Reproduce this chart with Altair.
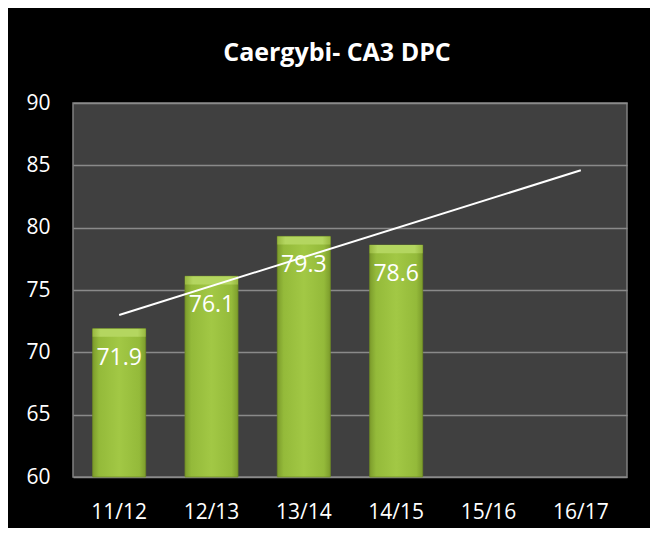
import altair as alt
import pandas as pd

categories = ["11/12", "12/13", "13/14", "14/15", "15/16", "16/17"]
bar_cats = ["11/12", "12/13", "13/14", "14/15"]
bar_values = [71.9, 76.1, 79.3, 78.6]
trend_cats = ["11/12", "16/17"]
trend_values = [73.0, 84.6]
y_ticks = [60, 65, 70, 75, 80, 85, 90]
y_min, y_max = 60, 90

bars_df = pd.DataFrame({"period": bar_cats, "value": bar_values})
trend_df = pd.DataFrame({"period": trend_cats, "value": trend_values})

FONT = "Open Sans"

x = alt.X("period:N", sort=categories,
          scale=alt.Scale(domain=categories, paddingInner=0.426, paddingOuter=0.213),
          axis=alt.Axis(title=None, labelAngle=0, labelColor="white", labelFontSize=21,
                        labelFont=FONT, labelPadding=24, ticks=False, domain=False))
y = alt.Y("value:Q", scale=alt.Scale(domain=[y_min, y_max], nice=False, zero=False),
          axis=alt.Axis(title=None, values=y_ticks, labelColor="white", labelFontSize=21,
                        labelFont=FONT, labelPadding=23, ticks=False, domain=False,
                        grid=True, gridColor="#8a8a8a", gridWidth=1.5))

gradient = alt.Gradient(
    gradient="linear", x1=0, x2=1, y1=0, y2=0,
    stops=[alt.GradientStop(offset=0, color="#7c9c2c"),
           alt.GradientStop(offset=0.12, color="#94ba3a"),
           alt.GradientStop(offset=0.5, color="#a2c845"),
           alt.GradientStop(offset=0.88, color="#94ba3a"),
           alt.GradientStop(offset=1, color="#7c9c2c")])

bevel_gradient = alt.Gradient(
    gradient="linear", x1=0, x2=1, y1=0, y2=0,
    stops=[alt.GradientStop(offset=0, color="#98b840"),
           alt.GradientStop(offset=0.15, color="#b4d660"),
           alt.GradientStop(offset=0.85, color="#b4d660"),
           alt.GradientStop(offset=1, color="#98b840")])

bars = alt.Chart(bars_df).mark_bar(fill=gradient, stroke="#6f8c25", strokeWidth=0.8).encode(
    x=x, y=y, y2=alt.datum(y_min))

bevel = alt.Chart(bars_df).transform_calculate(
    bevel_bottom="datum.value - 0.65"
).mark_bar(fill=bevel_gradient).encode(
    x=alt.X("period:N", sort=categories), y="value:Q", y2="bevel_bottom:Q")

labels = alt.Chart(bars_df).mark_text(color="white", fontSize=23, font=FONT,
                                      baseline="alphabetic", dy=36).encode(
    x=alt.X("period:N", sort=categories), y="value:Q", text=alt.Text("value:Q", format=".1f"))

trend = alt.Chart(trend_df).mark_line(color="white", strokeWidth=2).encode(
    x=alt.X("period:N", sort=categories), y="value:Q")

chart = alt.layer(bars, bevel, trend, labels).properties(
    width=554, height=374,
    autosize=alt.AutoSizeParams(type="none"),
    padding={"left": 65, "top": 95, "right": 23, "bottom": 51},
    background="black",
    title=alt.TitleParams("Caergybi- CA3 DPC", color="white", fontSize=25, font=FONT,
                          fontWeight="bold", anchor="middle", frame="group",
                          offset=6, baseline="alphabetic", dx=-13),
).configure_view(fill="#404040", stroke="#808080", strokeWidth=1.5)

chart.save("out.html", embed_options={"renderer": "svg", "actions": False})
